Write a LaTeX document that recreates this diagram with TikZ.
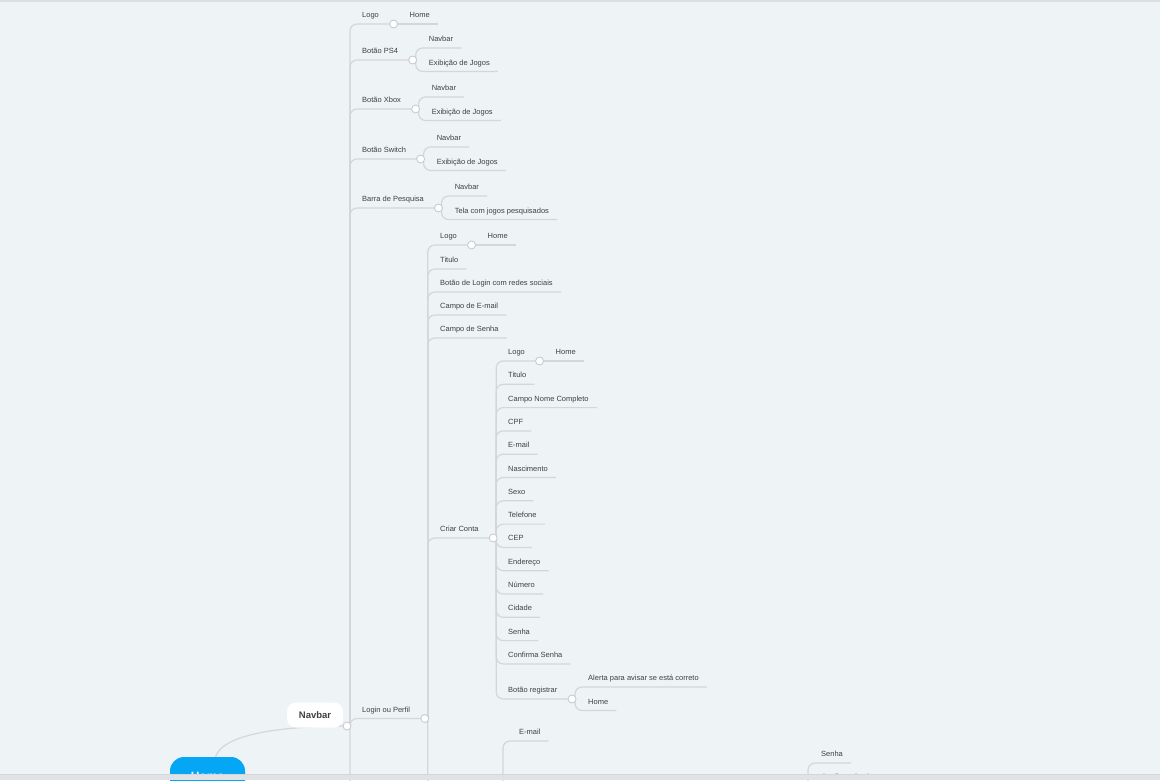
\documentclass[tikz,border=0pt]{standalone}
\usepackage{fontspec}
\setmainfont{Liberation Sans}
\usetikzlibrary{positioning}
\definecolor{PageBg}{HTML}{EEF3F6}
\definecolor{WireGray}{HTML}{D3D7DB}
\definecolor{JointGray}{HTML}{C6CCD1}
\definecolor{TextDark}{HTML}{404040}
\definecolor{RootBlue}{HTML}{05A6F4}
\pgfdeclarelayer{back}
\pgfdeclarelayer{wires}
\pgfsetlayers{back,wires,main}

\begin{document}
\begin{tikzpicture}[x=1pt, y=-1pt,
    topic/.style={anchor=south west, font=\fontsize{7.5}{9}\selectfont, text=TextDark,
                  inner xsep=8pt, inner ysep=4.3pt, text height=5.4pt, text depth=2pt},
    joint/.style={circle, draw=JointGray, fill=white, line width=0.9pt,
                  inner sep=0pt, minimum size=8pt},
    wire/.style={draw=WireGray, line width=1.2pt, rounded corners=7pt}]

            % Page
            \begin{pgfonlayer}{back}
            \fill[PageBg] (0,0) rectangle (1160,780);
            \fill[WireGray!80] (0,0) rectangle (1160,2);
            \end{pgfonlayer}
            \useasboundingbox (0,0) rectangle (1160,780);

            % Root and main topic
            \node[fill=RootBlue, text=white, font=\bfseries\fontsize{12}{14}\selectfont,
                  rounded corners=14pt, minimum width=75pt, minimum height=38pt]
                  (home) at (207.5,776) {Home};
            \node[fill=white, text=TextDark, font=\bfseries\fontsize{9.5}{11}\selectfont,
                  rounded corners=9pt, minimum width=56pt, minimum height=25pt]
                  (navbar) at (315,715) {Navbar};
            \node[joint] (jnav) at (347,726) {};

            % Navbar topics
            \node[topic] (logoA) at (354,24) {Logo};
            \node[joint, right=2pt of logoA.south east] (jlogoA) {};
            \node[topic] (homeA) at ([xshift=8pt]jlogoA.center) {Home};

            \node[topic] (ps4) at (354,60) {Botão PS4};
            \node[joint, right=2pt of ps4.south east] (jps4) {};
            \node[topic] (ps4nav) at ([xshift=8pt, yshift=12pt]jps4.center) {Navbar};
            \node[topic] (ps4jogos) at ([xshift=8pt, yshift=-11.5pt]jps4.center) {Exibição de Jogos};

            \node[topic] (xbox) at (354,109) {Botão Xbox};
            \node[joint, right=2pt of xbox.south east] (jxbox) {};
            \node[topic] (xboxnav) at ([xshift=8pt, yshift=12pt]jxbox.center) {Navbar};
            \node[topic] (xboxjogos) at ([xshift=8pt, yshift=-11.5pt]jxbox.center) {Exibição de Jogos};

            \node[topic] (switch) at (354,159) {Botão Switch};
            \node[joint, right=2pt of switch.south east] (jswitch) {};
            \node[topic] (switchnav) at ([xshift=8pt, yshift=12pt]jswitch.center) {Navbar};
            \node[topic] (switchjogos) at ([xshift=8pt, yshift=-11.5pt]jswitch.center) {Exibição de Jogos};

            \node[topic] (busca) at (354,208) {Barra de Pesquisa};
            \node[joint, right=2pt of busca.south east] (jbusca) {};
            \node[topic] (buscanav) at ([xshift=8pt, yshift=12pt]jbusca.center) {Navbar};
            \node[topic] (buscatela) at ([xshift=8pt, yshift=-11.5pt]jbusca.center) {Tela com jogos pesquisados};

            \node[topic] (login) at (354,718.5) {Login ou Perfil};
            \node[joint, right=2pt of login.south east] (jlogin) {};

            % Login ou Perfil topics
            \node[topic] (logoB) at (432,245) {Logo};
            \node[joint, right=2pt of logoB.south east] (jlogoB) {};
            \node[topic] (homeB) at ([xshift=8pt]jlogoB.center) {Home};
            \node[topic] (tituloB) at (432,269) {Titulo};
            \node[topic] (redes) at (432,292) {Botão de Login com redes sociais};
            \node[topic] (campoEmail) at (432,315) {Campo de E-mail};
            \node[topic] (campoSenha) at (432,338) {Campo de Senha};
            \node[topic] (conta) at (432,538) {Criar Conta};
            \node[joint, right=2pt of conta.south east] (jconta) {};

            % Criar Conta topics
            \node[topic] (logoC) at (500,361) {Logo};
            \node[joint, right=2pt of logoC.south east] (jlogoC) {};
            \node[topic] (homeC) at ([xshift=8pt]jlogoC.center) {Home};
            \node[topic] (tituloC) at (500,384.3) {Titulo};
            \node[topic] (nome) at (500,407.6) {Campo Nome Completo};
            \node[topic] (cpf) at (500,430.9) {CPF};
            \node[topic] (emailC) at (500,454.2) {E-mail};
            \node[topic] (nasc) at (500,477.5) {Nascimento};
            \node[topic] (sexo) at (500,500.8) {Sexo};
            \node[topic] (fone) at (500,524.1) {Telefone};
            \node[topic] (cep) at (500,547.4) {CEP};
            \node[topic] (endereco) at (500,570.7) {Endereço};
            \node[topic] (numero) at (500,594) {Número};
            \node[topic] (cidade) at (500,617.3) {Cidade};
            \node[topic] (senhaC) at (500,640.6) {Senha};
            \node[topic] (confirmaC) at (500,663.9) {Confirma Senha};
            \node[topic] (registrar) at (500,699) {Botão registrar};
            \node[joint, right=2pt of registrar.south east] (jreg) {};
            \node[topic] (alerta) at ([xshift=8pt, yshift=12pt]jreg.center) {Alerta para avisar se está correto};
            \node[topic] (homeD) at ([xshift=8pt, yshift=-11.5pt]jreg.center) {Home};

            % Topics running off the page
            \coordinate (jnavlow) at (420,900);
            \coordinate (jcad) at (500,830);
            \coordinate (jacesso) at (805,800);
            \node[topic] (emailD) at (511,741) {E-mail};
            \node[topic] (senhaD) at (813,763) {Senha};
            \node[topic] (confirmaD) at (813,786) {Confirma Senha};

            % Connectors
            \begin{pgfonlayer}{wires}
            \draw[wire] ([xshift=8pt]home.north) .. controls +(8,-24) and +(-60,0) .. (jnav.center);

            \draw[wire] ([xshift=3pt]jnav.center) |- (jlogoA.center);
            \draw[wire] ([xshift=3pt]jnav.center) |- (jps4.center);
            \draw[wire] ([xshift=3pt]jnav.center) |- (jxbox.center);
            \draw[wire] ([xshift=3pt]jnav.center) |- (jswitch.center);
            \draw[wire] ([xshift=3pt]jnav.center) |- (jbusca.center);
            \draw[wire] ([xshift=3pt]jnav.center) |- (jlogin.center);
            \draw[wire] ([xshift=3pt]jnav.center) |- (jnavlow);

            \draw[wire] (jlogoA.center) -- (homeA.south east);
            \draw[wire] ([xshift=3pt]jps4.center) |- (ps4nav.south east);
            \draw[wire] ([xshift=3pt]jps4.center) |- (ps4jogos.south east);
            \draw[wire] ([xshift=3pt]jxbox.center) |- (xboxnav.south east);
            \draw[wire] ([xshift=3pt]jxbox.center) |- (xboxjogos.south east);
            \draw[wire] ([xshift=3pt]jswitch.center) |- (switchnav.south east);
            \draw[wire] ([xshift=3pt]jswitch.center) |- (switchjogos.south east);
            \draw[wire] ([xshift=3pt]jbusca.center) |- (buscanav.south east);
            \draw[wire] ([xshift=3pt]jbusca.center) |- (buscatela.south east);

            \draw[wire] ([xshift=3pt]jlogin.center) |- (jlogoB.center);
            \draw[wire] (jlogoB.center) -- (homeB.south east);
            \draw[wire] ([xshift=3pt]jlogin.center) |- (tituloB.south east);
            \draw[wire] ([xshift=3pt]jlogin.center) |- (redes.south east);
            \draw[wire] ([xshift=3pt]jlogin.center) |- (campoEmail.south east);
            \draw[wire] ([xshift=3pt]jlogin.center) |- (campoSenha.south east);
            \draw[wire] ([xshift=3pt]jlogin.center) |- (jconta.center);
            \draw[wire] ([xshift=3pt]jlogin.center) |- (jcad);

            \draw[wire] ([xshift=3pt]jconta.center) |- (jlogoC.center);
            \draw[wire] (jlogoC.center) -- (homeC.south east);
            \draw[wire] ([xshift=3pt]jconta.center) |- (tituloC.south east);
            \draw[wire] ([xshift=3pt]jconta.center) |- (nome.south east);
            \draw[wire] ([xshift=3pt]jconta.center) |- (cpf.south east);
            \draw[wire] ([xshift=3pt]jconta.center) |- (emailC.south east);
            \draw[wire] ([xshift=3pt]jconta.center) |- (nasc.south east);
            \draw[wire] ([xshift=3pt]jconta.center) |- (sexo.south east);
            \draw[wire] ([xshift=3pt]jconta.center) |- (fone.south east);
            \draw[wire] ([xshift=3pt]jconta.center) |- (cep.south east);
            \draw[wire] ([xshift=3pt]jconta.center) |- (endereco.south east);
            \draw[wire] ([xshift=3pt]jconta.center) |- (numero.south east);
            \draw[wire] ([xshift=3pt]jconta.center) |- (cidade.south east);
            \draw[wire] ([xshift=3pt]jconta.center) |- (senhaC.south east);
            \draw[wire] ([xshift=3pt]jconta.center) |- (confirmaC.south east);
            \draw[wire] ([xshift=3pt]jconta.center) |- (jreg.center);
            \draw[wire] ([xshift=3pt]jreg.center) |- (alerta.south east);
            \draw[wire] ([xshift=3pt]jreg.center) |- (homeD.south east);

            \draw[wire] ([xshift=3pt]jcad) |- (emailD.south east);
            \draw[wire] ([xshift=3pt]jacesso) |- (senhaD.south east);
            \draw[wire] ([xshift=3pt]jacesso) |- (confirmaD.south east);
            \end{pgfonlayer}

            % Bottom edge of the window
            \fill[WireGray!70] (0,774) rectangle (1160,780);
            \draw[WireGray, line width=0.8pt] (0,774) -- (1160,774);
        \end{tikzpicture}
\end{document}
